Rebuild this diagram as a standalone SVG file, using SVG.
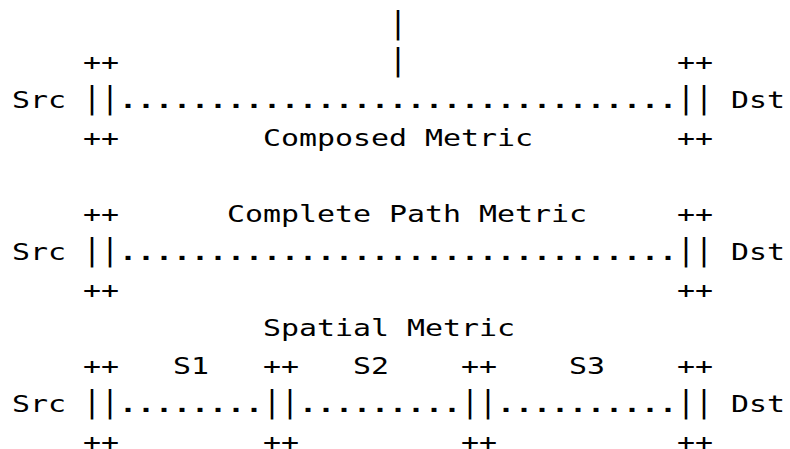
<svg xmlns="http://www.w3.org/2000/svg" width="790" height="449" viewBox="0 0 790 449">
<style>
text{font-family:"DejaVu Sans Mono","Liberation Mono",monospace;fill:#000;}
.t{font-size:23.5px;}
.b{font-size:30px;}
.d{font-size:23.5px;font-weight:bold;}
</style>
<rect width="790" height="449" fill="#fff"/>
<g id="feed">
<text class="b" x="389" y="32.5" textLength="18" lengthAdjust="spacingAndGlyphs">|</text>
<text class="b" x="389" y="69.8" textLength="18" lengthAdjust="spacingAndGlyphs">|</text>
</g>
<g id="composed">
<g id="c-src"><text class="t" x="12" y="107.8" textLength="54" lengthAdjust="spacingAndGlyphs">Src</text></g>
<g id="c-left">
<text class="t" x="83" y="69.8" textLength="36" lengthAdjust="spacingAndGlyphs">++</text>
<text class="b" x="83" y="107.8" textLength="36" lengthAdjust="spacingAndGlyphs">||</text>
<text class="t" x="83" y="145.8" textLength="36" lengthAdjust="spacingAndGlyphs">++</text>
</g>
<g id="c-right">
<text class="t" x="677" y="69.8" textLength="36" lengthAdjust="spacingAndGlyphs">++</text>
<text class="b" x="677" y="107.8" textLength="36" lengthAdjust="spacingAndGlyphs">||</text>
<text class="t" x="677" y="145.8" textLength="36" lengthAdjust="spacingAndGlyphs">++</text>
</g>
<g id="c-dst"><text class="t" x="731" y="107.8" textLength="54" lengthAdjust="spacingAndGlyphs">Dst</text></g>
<text class="t" x="263" y="145.8" textLength="270" lengthAdjust="spacingAndGlyphs">Composed Metric</text>
</g>
<g id="complete">
<g id="p-src"><text class="t" x="12" y="259.8" textLength="54" lengthAdjust="spacingAndGlyphs">Src</text></g>
<g id="p-left">
<text class="t" x="83" y="221.8" textLength="36" lengthAdjust="spacingAndGlyphs">++</text>
<text class="b" x="83" y="259.8" textLength="36" lengthAdjust="spacingAndGlyphs">||</text>
<text class="t" x="83" y="297.8" textLength="36" lengthAdjust="spacingAndGlyphs">++</text>
</g>
<g id="p-right">
<text class="t" x="677" y="221.8" textLength="36" lengthAdjust="spacingAndGlyphs">++</text>
<text class="b" x="677" y="259.8" textLength="36" lengthAdjust="spacingAndGlyphs">||</text>
<text class="t" x="677" y="297.8" textLength="36" lengthAdjust="spacingAndGlyphs">++</text>
</g>
<g id="p-dst"><text class="t" x="731" y="259.8" textLength="54" lengthAdjust="spacingAndGlyphs">Dst</text></g>
<text class="t" x="227" y="221.8" textLength="360" lengthAdjust="spacingAndGlyphs">Complete Path Metric</text>
</g>
<g id="spatial">
<text class="t" x="263" y="335.8" textLength="252" lengthAdjust="spacingAndGlyphs">Spatial Metric</text>
<g id="s-src"><text class="t" x="12" y="411.8" textLength="54" lengthAdjust="spacingAndGlyphs">Src</text></g>
<g id="s-n0">
<text class="t" x="83" y="373.8" textLength="36" lengthAdjust="spacingAndGlyphs">++</text>
<text class="b" x="83" y="411.8" textLength="36" lengthAdjust="spacingAndGlyphs">||</text>
<text class="t" x="83" y="449.5" textLength="36" lengthAdjust="spacingAndGlyphs">++</text>
</g>
<g id="s-n1">
<text class="t" x="263" y="373.8" textLength="36" lengthAdjust="spacingAndGlyphs">++</text>
<text class="b" x="263" y="411.8" textLength="36" lengthAdjust="spacingAndGlyphs">||</text>
<text class="t" x="263" y="449.5" textLength="36" lengthAdjust="spacingAndGlyphs">++</text>
</g>
<g id="s-n2">
<text class="t" x="461" y="373.8" textLength="36" lengthAdjust="spacingAndGlyphs">++</text>
<text class="b" x="461" y="411.8" textLength="36" lengthAdjust="spacingAndGlyphs">||</text>
<text class="t" x="461" y="449.5" textLength="36" lengthAdjust="spacingAndGlyphs">++</text>
</g>
<g id="s-n3">
<text class="t" x="677" y="373.8" textLength="36" lengthAdjust="spacingAndGlyphs">++</text>
<text class="b" x="677" y="411.8" textLength="36" lengthAdjust="spacingAndGlyphs">||</text>
<text class="t" x="677" y="449.5" textLength="36" lengthAdjust="spacingAndGlyphs">++</text>
</g>
<g id="s-dst"><text class="t" x="731" y="411.8" textLength="54" lengthAdjust="spacingAndGlyphs">Dst</text></g>
<text class="t" x="173" y="373.8" textLength="36" lengthAdjust="spacingAndGlyphs">S1</text>
<text class="t" x="353" y="373.8" textLength="36" lengthAdjust="spacingAndGlyphs">S2</text>
<text class="t" x="569" y="373.8" textLength="36" lengthAdjust="spacingAndGlyphs">S3</text>
</g>
<g id="connectors">
<text class="d" x="119" y="107.8" textLength="558" lengthAdjust="spacingAndGlyphs">...............................</text>
<text class="d" x="119" y="259.8" textLength="558" lengthAdjust="spacingAndGlyphs">...............................</text>
<text class="d" x="119" y="411.8" textLength="144" lengthAdjust="spacingAndGlyphs">........</text>
<text class="d" x="299" y="411.8" textLength="162" lengthAdjust="spacingAndGlyphs">.........</text>
<text class="d" x="497" y="411.8" textLength="180" lengthAdjust="spacingAndGlyphs">..........</text>
</g>
</svg>
